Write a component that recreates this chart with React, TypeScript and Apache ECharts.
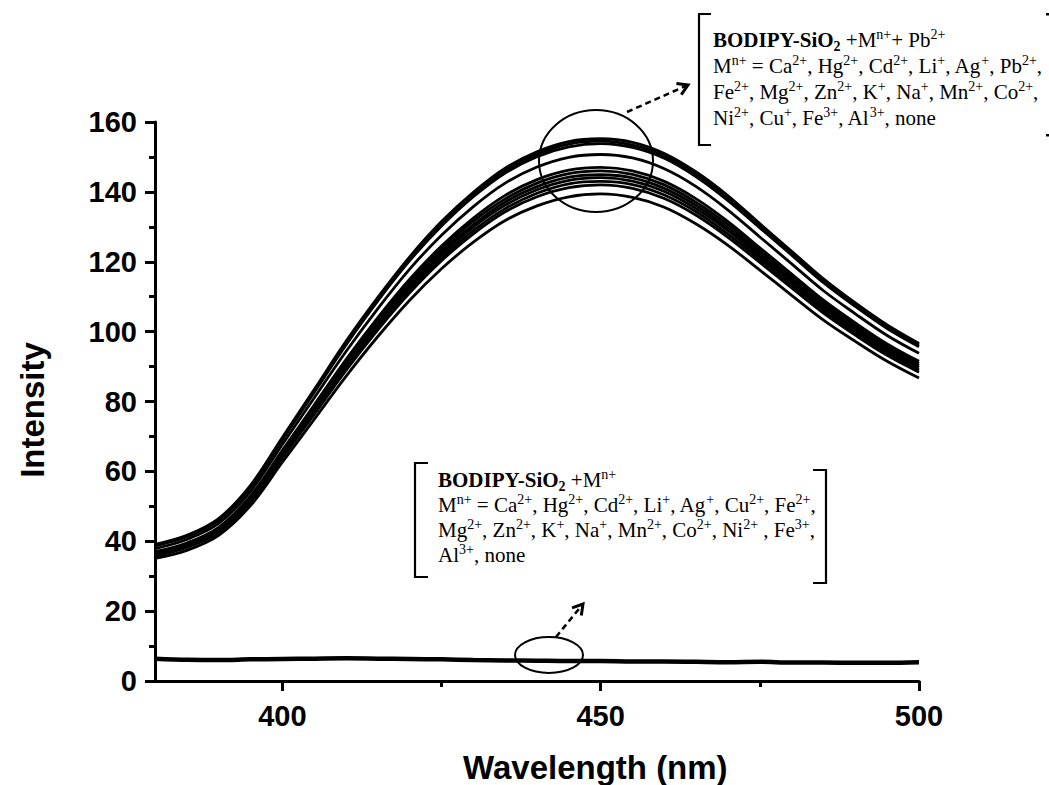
import React, { useEffect, useRef } from "react";
import * as echarts from "echarts";

// Wavelength grid (nm)
const wavelength = [380, 385, 390, 395, 400, 405, 410, 415, 420, 425, 430, 435, 440, 445, 450, 455, 460, 465, 470, 475, 480, 485, 490, 495, 500];

// BODIPY-SiO2 + M(n+) + Pb(2+) emission spectra
const curve1 = [39.1, 41.7, 46.5, 56.0, 69.7, 83.4, 97.2, 109.8, 121.4, 131.5, 139.9, 146.8, 151.5, 154.4, 155.2, 154.2, 151.0, 145.7, 138.9, 130.9, 123.0, 115.1, 108.2, 101.9, 96.6];
const curve2 = [38.9, 41.5, 46.2, 55.7, 69.4, 83.0, 96.7, 109.3, 120.9, 130.8, 139.3, 146.1, 150.8, 153.7, 154.5, 153.4, 150.3, 145.0, 138.2, 130.3, 122.4, 114.6, 107.7, 101.4, 96.2];
const curve3 = [38.7, 41.3, 46.0, 55.4, 69.0, 82.6, 96.2, 108.8, 120.3, 130.2, 138.6, 145.4, 150.1, 152.9, 153.8, 152.7, 149.6, 144.3, 137.5, 129.7, 121.9, 114.0, 107.2, 100.9, 95.7];
const curve4 = [37.9, 40.5, 45.1, 54.3, 67.7, 81.0, 94.3, 106.6, 117.9, 127.6, 135.8, 142.5, 147.1, 149.9, 150.7, 149.7, 146.6, 141.5, 134.8, 127.1, 119.4, 111.7, 105.1, 98.9, 93.8];
const curve5 = [37.0, 39.5, 44.0, 53.0, 66.0, 79.0, 92.0, 104.0, 115.0, 124.5, 132.5, 139.0, 143.5, 146.2, 147.0, 146.0, 143.0, 138.0, 131.5, 124.0, 116.5, 109.0, 102.5, 96.5, 91.5];
const curve6 = [36.7, 39.2, 43.7, 52.6, 65.5, 78.4, 91.4, 103.3, 114.2, 123.6, 131.6, 138.0, 142.5, 145.2, 146.0, 145.0, 142.0, 137.0, 130.6, 123.1, 115.7, 108.2, 101.8, 95.8, 90.9];
const curve7 = [36.5, 38.9, 43.4, 52.3, 65.1, 77.9, 90.7, 102.5, 113.4, 122.8, 130.6, 137.1, 141.5, 144.2, 144.9, 144.0, 141.0, 136.1, 129.7, 122.3, 114.9, 107.5, 101.1, 95.1, 90.2];
const curve8 = [36.3, 38.7, 43.1, 51.9, 64.7, 77.4, 90.2, 101.9, 112.7, 122.0, 129.9, 136.2, 140.6, 143.3, 144.1, 143.1, 140.1, 135.2, 128.9, 121.5, 114.2, 106.8, 100.5, 94.6, 89.7];
const curve9 = [36.0, 38.4, 42.8, 51.6, 64.2, 76.9, 89.5, 101.2, 111.9, 121.1, 128.9, 135.2, 139.6, 142.3, 143.0, 142.1, 139.1, 134.3, 127.9, 120.7, 113.4, 106.1, 99.7, 93.9, 89.0];
const curve10 = [35.7, 38.2, 42.5, 51.2, 63.8, 76.3, 88.9, 100.5, 111.1, 120.3, 128.0, 134.3, 138.6, 141.2, 142.0, 141.0, 138.1, 133.3, 127.0, 119.8, 112.5, 105.3, 99.0, 93.2, 88.4];
const curve11 = [35.1, 37.4, 41.7, 50.2, 62.6, 74.9, 87.2, 98.6, 109.0, 118.0, 125.6, 131.8, 136.0, 138.6, 139.4, 138.4, 135.6, 130.8, 124.7, 117.6, 110.4, 103.3, 97.2, 91.5, 86.7];

// BODIPY-SiO2 + M(n+) (without Pb2+) — all overlapping near the baseline
const baseline = [6.4, 6.1, 6.0, 6.2, 6.3, 6.4, 6.5, 6.4, 6.3, 6.2, 6.0, 5.9, 5.8, 5.7, 5.7, 5.6, 5.6, 5.5, 5.4, 5.5, 5.3, 5.3, 5.2, 5.2, 5.4];

const upperCurves = [curve1, curve2, curve3, curve4, curve5, curve6, curve7, curve8, curve9, curve10, curve11];

const xMajorTicks = [400, 450, 500];
const xMinorTicks = [425, 475];

const SANS = "'Liberation Sans', Arial, sans-serif";
const SERIF = "'Liberation Serif', 'Times New Roman', serif";

const rich: any = {
  b: { fontFamily: SERIF, fontWeight: "bold", fontSize: 21, lineHeight: 26, fill: "#000" },
  bs: { fontFamily: SERIF, fontWeight: "bold", fontSize: 14, lineHeight: 15, verticalAlign: "bottom", fill: "#000" },
  n: { fontFamily: SERIF, fontSize: 21, lineHeight: 26, fill: "#000" },
  sp: { fontFamily: SERIF, fontSize: 14, lineHeight: 14, verticalAlign: "top", fill: "#000" },
};

const upperLines = [
  "{b|BODIPY-SiO}{bs|2}{n| +M}{sp|n+}{n|+ Pb}{sp|2+}",
  "{n|M}{sp|n+}{n| = Ca}{sp|2+}{n|, Hg}{sp|2+}{n|, Cd}{sp|2+}{n|, Li}{sp|+}{n|, Ag}{sp|+}{n|, Pb}{sp|2+}{n|,}",
  "{n|Fe}{sp|2+}{n|, Mg}{sp|2+}{n|, Zn}{sp|2+}{n|, K}{sp|+}{n|, Na}{sp|+}{n|, Mn}{sp|2+}{n|, Co}{sp|2+}{n|,}",
  "{n|Ni}{sp|2+}{n|, Cu}{sp|+}{n|, Fe}{sp|3+}{n|, Al}{sp|3+}{n|, none}",
];
const lowerLines = [
  "{b|BODIPY-SiO}{bs|2}{n| +M}{sp|n+}",
  "{n|M}{sp|n+}{n| = Ca}{sp|2+}{n|, Hg}{sp|2+}{n|, Cd}{sp|2+}{n|, Li}{sp|+}{n|, Ag}{sp|+}{n|, Cu}{sp|2+}{n|, Fe}{sp|2+}{n|,}",
  "{n|Mg}{sp|2+}{n|, Zn}{sp|2+}{n|, K}{sp|+}{n|, Na}{sp|+}{n|, Mn}{sp|2+}{n|, Co}{sp|2+}{n|, Ni}{sp|2+}{n| , Fe}{sp|3+}{n|,}",
  "{n|Al}{sp|3+}{n|, none}",
];

function textLine(text: string, x: number, y: number) {
  return {
    type: "text",
    x,
    y,
    z: 100,
    style: { text, rich, textAlign: "left", textVerticalAlign: "top", fill: "#000" },
  };
}

function arrow(x1: number, y1: number, x2: number, y2: number) {
  const dx = x2 - x1;
  const dy = y2 - y1;
  const len = Math.sqrt(dx * dx + dy * dy);
  const ux = dx / len;
  const uy = dy / len;
  const px = -uy;
  const py = ux;
  const bx = x2 - 10 * ux;
  const by = y2 - 10 * uy;
  return [
    {
      type: "line",
      z: 100,
      shape: { x1, y1, x2: x2 - 3 * ux, y2: y2 - 3 * uy },
      style: { stroke: "#000", lineWidth: 2.5, lineDash: [6, 4] },
    },
    {
      type: "polyline",
      z: 100,
      shape: { points: [[bx + 6 * px, by + 6 * py], [x2, y2], [bx - 6 * px, by - 6 * py]] },
      style: { stroke: "#000", lineWidth: 3, fill: "none" },
    },
  ];
}

export default function App() {
  const ref = useRef<HTMLDivElement>(null);
  useEffect(() => {
    document.body.style.margin = "0";
    const chart = echarts.init(ref.current!, null, { renderer: "svg" });

    const series: any[] = upperCurves.map((c, i) => ({
      name: "Pb" + i,
      type: "line",
      xAxisIndex: 0,
      yAxisIndex: 0,
      data: wavelength.map((w, j) => [w, c[j]]),
      smooth: 0.35,
      showSymbol: false,
      symbol: "none",
      lineStyle: { color: "#000", width: 2.8 },
      silent: true,
    }));
    series.push({
      name: "base",
      type: "line",
      xAxisIndex: 0,
      yAxisIndex: 0,
      data: wavelength.map((w, j) => [w, baseline[j]]),
      smooth: 0.3,
      showSymbol: false,
      symbol: "none",
      lineStyle: { color: "#000", width: 4.5 },
      silent: true,
    });

    const graphic: any[] = [
      // upper ellipse + arrow
      { type: "ellipse", z: 100, shape: { cx: 596, cy: 161, rx: 57, ry: 51 }, style: { fill: "none", stroke: "#000", lineWidth: 2 } },
      ...arrow(627, 112, 688, 85),
      // lower ellipse + arrow
      { type: "ellipse", z: 100, shape: { cx: 549, cy: 655, rx: 34, ry: 18 }, style: { fill: "none", stroke: "#000", lineWidth: 2 } },
      ...arrow(556, 637, 583, 604),
      // upper brackets
      { type: "polyline", z: 100, shape: { points: [[711, 14], [699, 14], [699, 145], [711, 145]] }, style: { stroke: "#000", lineWidth: 2.2, fill: "none" } },
      { type: "rect", z: 100, shape: { x: 1046, y: 13, width: 3, height: 2.5 }, style: { fill: "#000" } },
      { type: "rect", z: 100, shape: { x: 1046, y: 134, width: 3, height: 2.5 }, style: { fill: "#000" } },
      // lower brackets
      { type: "polyline", z: 100, shape: { points: [[428, 463], [415, 463], [415, 577], [428, 577]] }, style: { stroke: "#000", lineWidth: 2.2, fill: "none" } },
      { type: "polyline", z: 100, shape: { points: [[813, 470], [826, 470], [826, 583], [813, 583]] }, style: { stroke: "#000", lineWidth: 2.2, fill: "none" } },
      ...upperLines.map((t, i) => textLine(t, 713, 27 + i * 26)),
      ...lowerLines.map((t, i) => textLine(t, 438, 467 + i * 25)),
      // axis titles
      {
        type: "text",
        x: 463,
        y: 767,
        z: 100,
        style: { text: "Wavelength (nm)", font: "bold 33px " + SANS, fill: "#000", textAlign: "left", textVerticalAlign: "middle" },
      },
      {
        type: "text",
        x: 32,
        y: 410,
        rotation: Math.PI / 2,
        z: 100,
        style: { text: "Intensity", font: "bold 33px " + SANS, fill: "#000", textAlign: "center", textVerticalAlign: "middle" },
      },
    ];

    const option: any = {
      animation: false,
      backgroundColor: "#fff",
      grid: { left: 155, right: 130, top: 122, bottom: 104, containLabel: false },
      xAxis: [
        {
          type: "value",
          min: 380,
          max: 500,
          position: "bottom",
          splitLine: { show: false },
          axisLine: { show: true, onZero: false, lineStyle: { color: "#000", width: 3 } },
          axisTick: { show: true, customValues: xMajorTicks, length: 10, lineStyle: { color: "#000", width: 3 } },
          axisLabel: {
            show: true,
            customValues: xMajorTicks,
            margin: 20,
            fontFamily: SANS,
            fontWeight: "bold",
            fontSize: 29,
            color: "#000",
          },
        },
        {
          type: "value",
          min: 380,
          max: 500,
          position: "bottom",
          splitLine: { show: false },
          axisLine: { show: false },
          axisTick: { show: true, customValues: xMinorTicks, length: 6, lineStyle: { color: "#000", width: 3 } },
          axisLabel: { show: false },
        },
      ],
      yAxis: {
        type: "value",
        min: 0,
        max: 160,
        interval: 20,
        splitLine: { show: false },
        axisLine: { show: true, onZero: false, lineStyle: { color: "#000", width: 3 } },
        axisTick: { show: true, length: 10, lineStyle: { color: "#000", width: 3 } },
        minorTick: { show: true, splitNumber: 2, length: 6, lineStyle: { color: "#000", width: 3 } },
        axisLabel: { margin: 18, fontFamily: SANS, fontWeight: "bold", fontSize: 29, color: "#000" },
      },
      series,
      graphic,
    };
    chart.setOption(option);
    return () => chart.dispose();
  }, []);
  return <div ref={ref} style={{ width: 1049, height: 785 }} />;
}
